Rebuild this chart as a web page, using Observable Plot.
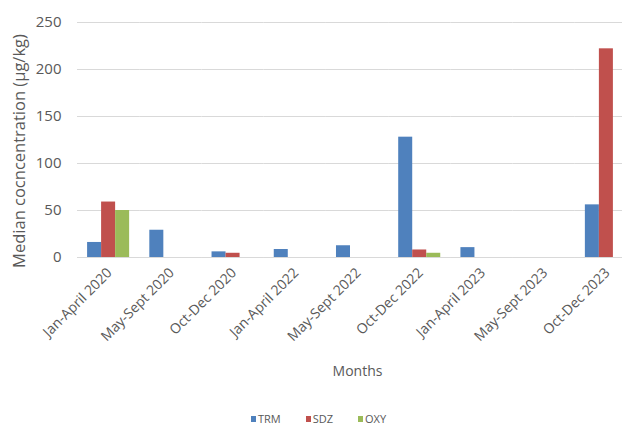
<!DOCTYPE html>
<html><head><meta charset="utf-8">
<script src="https://cdn.jsdelivr.net/npm/d3@7"></script>
<script src="https://cdn.jsdelivr.net/npm/@observablehq/plot@0.6"></script>
<style>
body{margin:0;background:#fff;font-family:"Open Sans",sans-serif;color:#595959;width:622px;height:429px;overflow:hidden;}
#legend{position:absolute;left:251px;top:410px;display:flex;font-size:11px;line-height:18px;}
#legend span.item{display:inline-flex;align-items:center;margin-right:25px;}
#legend span.sw{display:inline-block;width:5px;height:6px;margin-right:2px;}
</style></head><body><div id="chart"></div><div id="legend"></div><script>
const months = ["Jan-April 2020","May-Sept 2020","Oct-Dec 2020","Jan-April 2022","May-Sept 2022","Oct-Dec 2022","Jan-April 2023","May-Sept 2023","Oct-Dec 2023"];
const series = ["TRM","SDZ","OXY"];
const colors = ["#4F81BD","#C0504D","#9BBB59"];
const trm = [16,29,6,8.5,12.5,128,10.5,null,56];
const sdz = [59,null,4.5,null,null,8,null,null,222];
const oxy = [50,null,null,null,null,4.5,null,null,null];
const yTicks = [0,50,100,150,200,250];
const yTitle = "Median cocncentration (µg/kg)";
const xTitle = "Months";

const values = {TRM: trm, SDZ: sdz, OXY: oxy};
const data = [];
months.forEach((m, i) => series.forEach(s => {
  data.push({month: m, series: s, value: values[s][i]});
}));

const chart = Plot.plot({
  width: 622,
  height: 384,
  marginTop: 22,
  marginBottom: 127,
  marginLeft: 77,
  marginRight: -15,
  style: {fontFamily: "Open Sans, sans-serif", fontSize: "14px", color: "#595959", background: "#fff"},
  fx: {domain: months, padding: 0, round: false},
  x: {domain: series, paddingInner: 0, paddingOuter: 0.72, round: false, axis: null},
  y: {domain: [0, 250]},
  color: {domain: series, range: colors},
  marks: [
    Plot.gridY(yTicks, {stroke: "#d9d9d9", strokeOpacity: 1}),
    Plot.barY(data, {fx: "month", x: "series", y: "value", fill: "series"}),
    Plot.ruleY([0], {stroke: "#d9d9d9"}),
    Plot.axisY(yTicks, {facetAnchor: "left", tickSize: 0, tickPadding: 16, fill: "#595959", fontSize: 15, label: null}),
    Plot.text([yTitle], {facet: "super", frameAnchor: "left", rotate: -90, lineAnchor: "top", textAnchor: "middle",
      dx: -64, dy: 11, fill: "#595959", fontSize: 16.5}),
    Plot.axisFx({anchor: "bottom", facetAnchor: "bottom", tickSize: 0, tickRotate: -45, tickPadding: 13, dx: 1, fill: "#595959", fontSize: 14,
      label: xTitle, labelAnchor: "center", labelArrow: "none", labelOffset: 118})
  ]
});
document.getElementById("chart").appendChild(chart);

const legend = document.getElementById("legend");
series.forEach((s, i) => {
  const item = document.createElement("span");
  item.className = "item";
  const sw = document.createElement("span");
  sw.className = "sw";
  sw.style.background = colors[i];
  item.appendChild(sw);
  item.appendChild(document.createTextNode(s));
  legend.appendChild(item);
});
</script></body></html>
